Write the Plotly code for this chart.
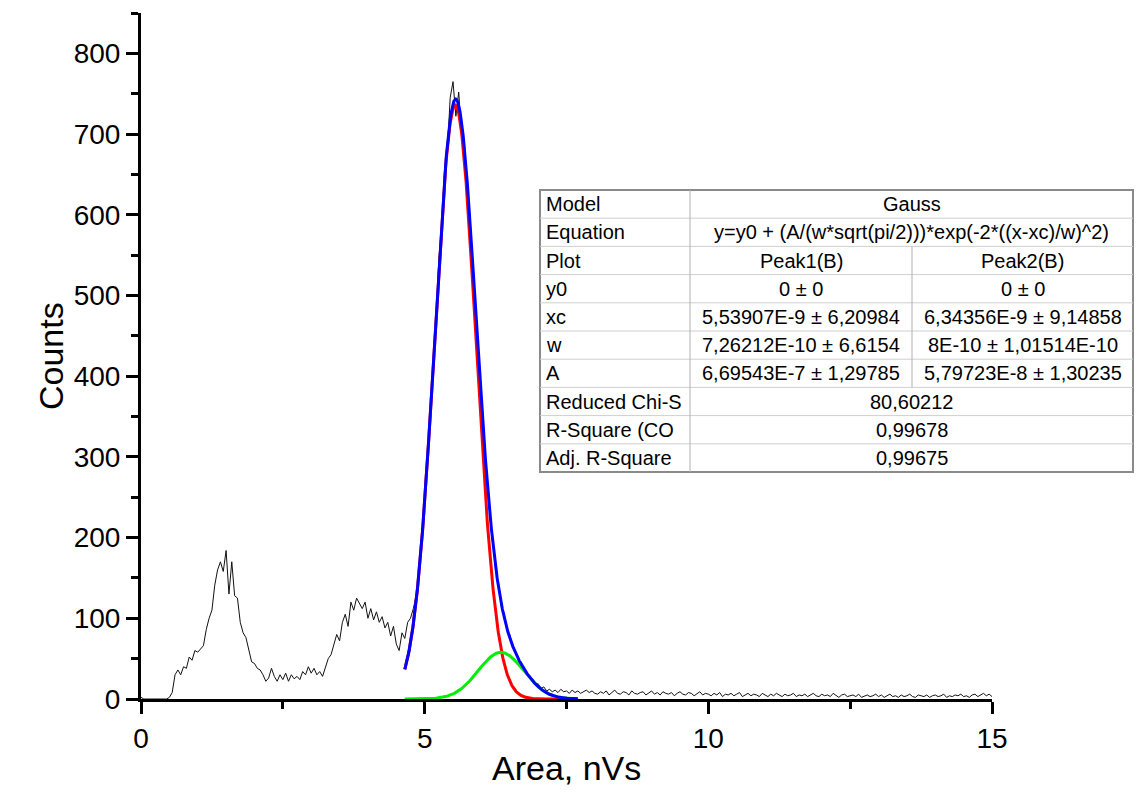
import numpy as np
import plotly.graph_objects as go

# ---------------- data ----------------
bin_step = 0.05
counts = [
    # 0.00 - 0.95
    2, 0, 0, 0, 0, 0, 0, 0, 0, 0, 2, 8, 30, 36, 30, 40, 38, 52, 48, 60,
    # 1.00 - 1.95
    58, 62, 66, 86, 100, 110, 141, 160, 170, 158, 184, 130, 170, 128, 125, 95, 82, 76, 62, 46,
    # 2.00 - 2.95
    44, 38, 36, 30, 22, 26, 38, 28, 22, 30, 24, 32, 22, 30, 25, 28, 24, 34, 30, 40,
    # 3.00 - 3.95
    32, 38, 30, 34, 28, 40, 50, 55, 68, 80, 72, 95, 105, 90, 120, 110, 125, 118, 112, 120,
    # 4.00 - 4.95
    100, 112, 98, 108, 95, 102, 88, 95, 78, 90, 68, 60, 82, 75, 95, 100, 112, 128, 150, 205,
    # 5.00 - 5.95
    240, 305, 348, 420, 470, 545, 588, 655, 680, 745, 765, 722, 752, 700, 690, 630, 598, 528, 488, 415,
    # 6.00 - 6.95
    372, 310, 278, 224, 200, 160, 145, 115, 106, 88, 80, 64, 60, 48, 46, 36, 34, 26, 25, 18,
    # 7.00 - 7.95
    19, 13, 15, 10, 12, 9, 11, 8, 12, 9, 10, 7, 11, 8, 10, 7, 9, 11, 8, 10,
    # 8.00 - 8.95
    7, 6, 9, 7, 10, 5, 8, 11, 7, 6, 9, 8, 5, 10, 7, 6, 8, 9, 5, 7,
    # 9.00 - 9.95
    10, 6, 8, 5, 9, 7, 6, 8, 4, 7, 9, 6, 5, 8, 7, 4, 6, 9, 5, 7,
    # 10.00 - 10.95
    6, 4, 7, 5, 8, 3, 6, 5, 7, 4, 6, 8, 3, 5, 7, 4, 6, 5, 3, 7,
    # 11.00 - 11.95
    5, 3, 6, 4, 7, 5, 3, 6, 4, 5, 7, 3, 5, 4, 6, 3, 5, 7, 4, 3,
    # 12.00 - 12.95
    6, 4, 5, 3, 7, 4, 2, 5, 6, 3, 4, 5, 3, 6, 2, 4, 5, 3, 4, 6,
    # 13.00 - 13.95
    3, 5, 2, 4, 6, 3, 4, 2, 5, 3, 4, 6, 3, 2, 5, 4, 3, 5, 2, 4,
    # 14.00 - 14.95
    5, 3, 4, 6, 2, 4, 3, 5, 4, 6, 3, 4, 2, 5, 6, 3, 5, 7, 4, 6,
    # 15.00
    3,
]
area = [round(i * bin_step, 2) for i in range(len(counts))]

# Gauss fit parameters (x in nVs, A in counts*nVs)
peak_xc = [5.53907, 6.34356]
peak_w = [0.726212, 0.8]
peak_A = [669.543, 57.9723]
fit_range = [4.65, 7.7]

table_rows = [
    ["Model", "Gauss"],
    ["Equation", "y=y0 + (A/(w*sqrt(pi/2)))*exp(-2*((x-xc)/w)^2)"],
    ["Plot", "Peak1(B)", "Peak2(B)"],
    ["y0", "0 ± 0", "0 ± 0"],
    ["xc", "5,53907E-9 ± 6,20984", "6,34356E-9 ± 9,14858"],
    ["w", "7,26212E-10 ± 6,6154", "8E-10 ± 1,01514E-10"],
    ["A", "6,69543E-7 ± 1,29785", "5,79723E-8 ± 1,30235"],
    ["Reduced Chi-S", "80,60212"],
    ["R-Square (CO", "0,99678"],
    ["Adj. R-Square", "0,99675"],
]

x_ticks = [0, 5, 10, 15]
y_ticks = [0, 100, 200, 300, 400, 500, 600, 700, 800]

# ---------------- figure ----------------
W, H = 1137, 805
L, R, T, B = 141, 992, 13, 699  # plot area in pixels
FONT = "Arial, Liberation Sans, sans-serif"


def px(xp):
    return (xp - L) / (R - L)


def py(yp):
    return (B - yp) / (B - T)


xf = np.linspace(fit_range[0], fit_range[1], 500)


def gauss(x, xc, w, A):
    return (A / (w * np.sqrt(np.pi / 2))) * np.exp(-2 * ((x - xc) / w) ** 2)


g1 = gauss(xf, peak_xc[0], peak_w[0], peak_A[0])
g2 = gauss(xf, peak_xc[1], peak_w[1], peak_A[1])

fig = go.Figure()
fig.add_trace(go.Scatter(x=area, y=counts, mode="lines",
                         line=dict(color="#111111", width=1), showlegend=False))
fig.add_trace(go.Scatter(x=xf, y=g1, mode="lines",
                         line=dict(color="#ff0000", width=3), showlegend=False))
fig.add_trace(go.Scatter(x=xf, y=g2, mode="lines",
                         line=dict(color="#00ee00", width=3), showlegend=False))
fig.add_trace(go.Scatter(x=xf, y=g1 + g2, mode="lines",
                         line=dict(color="#0000ff", width=3), showlegend=False))

axis_common = dict(showgrid=False, zeroline=False, showline=True, linecolor="black",
                   linewidth=3, ticks="outside", ticklen=12, tickwidth=3, tickcolor="black",
                   tickfont=dict(family=FONT, size=28, color="black"))
fig.update_xaxes(range=[0, 15], tickvals=x_ticks, ticktext=[str(v) for v in x_ticks],
                 minor=dict(tickvals=[2.5, 7.5, 12.5], ticks="outside", ticklen=7,
                            tickwidth=3, tickcolor="black"),
                 **axis_common)
fig.update_yaxes(range=[0, 850], tickvals=y_ticks, ticktext=[str(v) for v in y_ticks],
                 minor=dict(tickvals=[v + 50 for v in y_ticks], ticks="outside", ticklen=7,
                            tickwidth=3, tickcolor="black"),
                 **axis_common)

annotations = [
    dict(text="Counts", x=px(30), y=py(356), xref="paper", yref="paper",
         showarrow=False, textangle=-90, font=dict(family=FONT, size=34, color="black")),
    dict(text="Area, nVs", x=px(566), y=py(789), xref="paper", yref="paper",
         showarrow=False, font=dict(family=FONT, size=34, color="black")),
]

# table geometry (pixels)
tx0, tx1, tx2, tx3 = 540, 690, 912, 1133
ty0, ty1 = 190, 472
nrows = len(table_rows)
rh = (ty1 - ty0) / nrows
shapes = [dict(type="rect", xref="paper", yref="paper", x0=px(tx0), x1=px(tx3),
               y0=py(ty1), y1=py(ty0), fillcolor="white",
               line=dict(color="#8a8a8a", width=2), layer="above")]
inner = dict(color="#cfcfcf", width=1)
for i in range(1, nrows):
    yl = ty0 + i * rh
    shapes.append(dict(type="line", xref="paper", yref="paper", x0=px(tx0), x1=px(tx3),
                       y0=py(yl), y1=py(yl), line=inner, layer="above"))
shapes.append(dict(type="line", xref="paper", yref="paper", x0=px(tx1), x1=px(tx1),
                   y0=py(ty1), y1=py(ty0), line=dict(color="#b0b0b0", width=1), layer="above"))
shapes.append(dict(type="line", xref="paper", yref="paper", x0=px(tx2), x1=px(tx2),
                   y0=py(ty0 + 7 * rh), y1=py(ty0 + 2 * rh), line=dict(color="#b0b0b0", width=1),
                   layer="above"))

tfont = dict(family=FONT, size=20, color="black")
for i, row in enumerate(table_rows):
    yc = ty0 + (i + 0.5) * rh
    annotations.append(dict(text=row[0], x=px(tx0 + 4), y=py(yc), xref="paper", yref="paper",
                            xanchor="left", yanchor="middle", showarrow=False, font=tfont))
    if len(row) == 2:
        annotations.append(dict(text=row[1], x=px((tx1 + tx3) / 2), y=py(yc), xref="paper",
                                yref="paper", xanchor="center", yanchor="middle",
                                showarrow=False, font=tfont))
    else:
        annotations.append(dict(text=row[1], x=px((tx1 + tx2) / 2), y=py(yc), xref="paper",
                                yref="paper", xanchor="center", yanchor="middle",
                                showarrow=False, font=tfont))
        annotations.append(dict(text=row[2], x=px((tx2 + tx3) / 2), y=py(yc), xref="paper",
                                yref="paper", xanchor="center", yanchor="middle",
                                showarrow=False, font=tfont))

fig.update_layout(width=W, height=H, margin=dict(l=L, r=W - R, t=T, b=H - B, pad=0),
                  paper_bgcolor="white", plot_bgcolor="white",
                  shapes=shapes, annotations=annotations, showlegend=False)

fig.write_html("out.html", include_plotlyjs=True, config={"displayModeBar": False},
               post_script="document.body.style.margin='0';document.body.style.overflow='hidden';")
